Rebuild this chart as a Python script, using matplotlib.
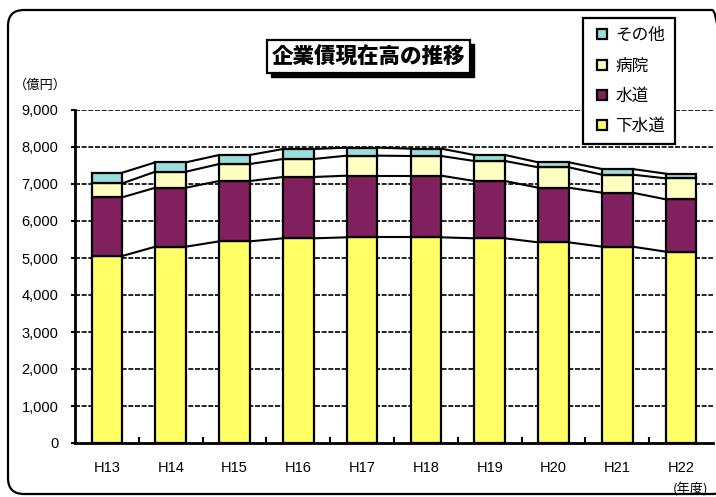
import numpy as np
import matplotlib.pyplot as plt
from matplotlib.patches import FancyBboxPatch, Rectangle
from matplotlib.lines import Line2D

plt.rcParams['font.family'] = ['Liberation Sans', 'Noto Sans CJK JP', 'DejaVu Sans']

years = ["H13", "H14", "H15", "H16", "H17", "H18", "H19", "H20", "H21", "H22"]
gesui = [5054, 5306, 5450, 5532, 5559, 5559, 5532, 5423, 5306, 5171]
suido = [1586, 1594, 1631, 1657, 1666, 1666, 1549, 1477, 1459, 1415]
byoin = [377, 433, 459, 487, 541, 532, 541, 551, 487, 567]
sonota = [288, 253, 244, 270, 216, 198, 162, 135, 153, 126]

names = ["下水道", "水道", "病院", "その他"]
colors = ["#FFFF66", "#80205F", "#FFFFC0", "#99DDDD"]
series = [gesui, suido, byoin, sonota]

W, H = 716, 497
fig = plt.figure(figsize=(W / 100, H / 100), dpi=100)
ax = fig.add_axes([75 / W, 54 / H, 638 / W, 333 / H])

x = np.arange(len(years))
bw = 0.48
bottom = np.zeros(len(years))
for vals, c, n in zip(series, colors, names):
    vals = np.array(vals, dtype=float)
    ax.bar(x, vals, bw, bottom=bottom, color=c, edgecolor="black", linewidth=1.6, zorder=3, label=n)
    bottom = bottom + vals
    # series lines between bars
    for i in range(len(years) - 1):
        ax.plot([x[i] + bw / 2, x[i + 1] - bw / 2], [bottom[i], bottom[i + 1]],
                color="black", lw=1.5, zorder=2)

ax.set_xlim(-0.5, len(years) - 0.5)
ax.set_ylim(0, 9000)
ax.set_yticks(np.arange(0, 9001, 1000))
ax.set_yticklabels([f"{v:,}" for v in range(0, 9001, 1000)], fontsize=10.5)
ax.set_xticks(x)
ax.set_xticklabels(years, fontsize=10.5)
ax.tick_params(axis="x", length=0, pad=13)
ax.tick_params(axis="y", length=3, width=1.5, direction="out", pad=9)
ax.set_xticks(x[:-1] + 0.5, minor=True)
ax.tick_params(axis="x", which="minor", length=4, width=1.5, direction="in")
for v in range(1000, 9001, 1000):
    ax.axhline(v, color="black", lw=1.2, ls=(0, (3, 1)), zorder=1)
for s in ["top", "right"]:
    ax.spines[s].set_visible(False)
ax.spines["left"].set_linewidth(2)
ax.spines["bottom"].set_linewidth(2)

# outer rounded border
fig.patches.append(FancyBboxPatch((8, 3), 720, 484, boxstyle="round,pad=0,rounding_size=16",
                                  transform=None, fc="none", ec="black", lw=1.6, zorder=0))

# title box with shadow
fig.patches.append(Rectangle((271, 420), 203, 33, transform=None, fc="black", ec="black", zorder=4))
fig.patches.append(Rectangle((267, 424), 203, 33, transform=None, fc="white", ec="black", lw=1.6, zorder=5))
fig.text(368.5 / W, 1 - 57 / H, "企業債現在高の推移", ha="center", va="center", fontsize=15.5,
         fontweight="heavy", family=["Noto Sans CJK JP"], zorder=6)

fig.text(40 / W, 1 - 85 / H, "（億円）", ha="center", va="center", fontsize=9.5,
         family=["Noto Sans CJK JP"])
fig.text(691 / W, 1 - 490 / H, "(年度)", ha="center", va="center", fontsize=9.5,
         family=["Noto Sans CJK JP"])

handles = [Line2D([], [], ls="none", marker="s", ms=6.5, mfc=c, mec="black", mew=1.6)
           for c in colors[::-1]]
leg = fig.legend(handles, names[::-1], loc="upper left", bbox_to_anchor=(583 / W, 1 - 18 / H),
                 fancybox=False, framealpha=1, edgecolor="black", handlelength=1.2,
                 handletextpad=0.2, labelspacing=0.8, borderpad=0.55, borderaxespad=0,
                 prop={"family": "Noto Sans CJK JP", "size": 12})
leg.get_frame().set_linewidth(1.6)
leg.set_zorder(10)

fig.savefig("out.png", dpi=100)
